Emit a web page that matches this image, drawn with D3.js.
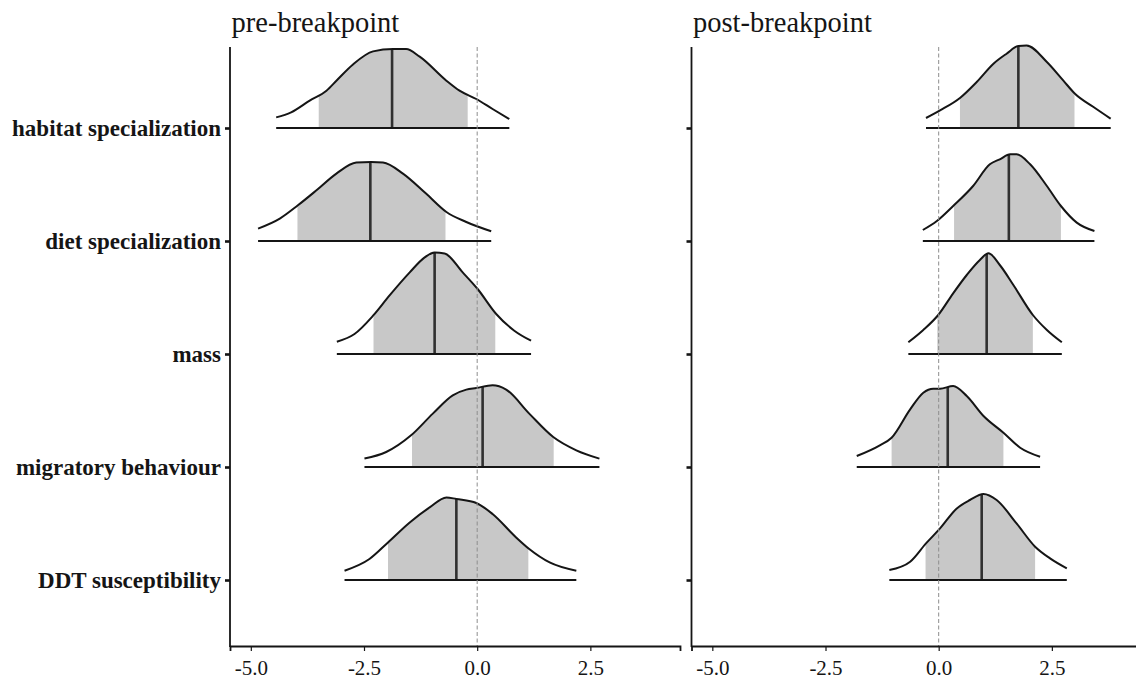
<!DOCTYPE html>
<html>
<head>
<meta charset="utf-8">
<script src="https://cdn.jsdelivr.net/npm/d3@7"></script>
<style>
  html, body { margin: 0; padding: 0; background: #fff; }
  svg { display: block; }
</style>
</head>
<body>
<script>
// ---------------- DATA ----------------
const categories = ["habitat specialization", "diet specialization", "mass", "migratory behaviour", "DDT susceptibility"];
const panelTitles = ["pre-breakpoint", "post-breakpoint"];
const xTicks = [-5.0, -2.5, 0.0, 2.5];

// density curves [value, density] per category
const preDensity = [
  [[-4.44,.106],[-4.11,.156],[-3.70,.273],[-3.33,.373],[-3.11,.473],[-2.75,.633],[-2.30,.766],[-1.86,.79],[-1.57,.79],[-1.27,.713],[-0.68,.473],[-0.39,.373],[-0.02,.29],[0.34,.19],[0.71,.09]],
  [[-4.84,.124],[-4.36,.224],[-3.96,.357],[-3.55,.507],[-3.11,.674],[-2.67,.784],[-2.34,.79],[-2.08,.784],[-1.64,.674],[-1.13,.474],[-0.68,.29],[-0.24,.19],[0.31,.097]],
  [[-3.10,.123],[-2.71,.20],[-2.30,.383],[-1.94,.583],[-1.49,.816],[-1.16,.966],[-0.94,1.016],[-0.72,1.006],[-0.32,.816],[0.01,.65],[0.42,.40],[0.82,.233],[1.19,.133]],
  [[-2.49,.084],[-2.01,.15],[-1.46,.317],[-0.98,.534],[-0.54,.717],[-0.24,.774],[-0.02,.79],[0.34,.817],[0.64,.774],[1.15,.534],[1.68,.30],[2.19,.167],[2.70,.084]],
  [[-2.93,.093],[-2.38,.21],[-1.97,.376],[-1.49,.576],[-1.05,.726],[-0.68,.826],[-0.46,.81],[-0.02,.77],[0.34,.66],[0.86,.426],[1.15,.31],[1.60,.176],[2.19,.093]]
];
const postDensity = [
  [[-0.28,.10],[0.03,.176],[0.47,.30],[0.84,.46],[1.21,.643],[1.50,.743],[1.76,.82],[1.94,.826],[2.39,.66],[2.75,.476],[3.01,.343],[3.42,.21],[3.80,.093]],
  [[-0.35,.11],[-0.04,.20],[0.32,.35],[0.76,.55],[1.13,.767],[1.35,.817],[1.58,.867],[1.72,.867],[2.02,.767],[2.39,.55],[2.70,.35],[3.05,.184],[3.44,.10]],
  [[-0.67,.117],[-0.34,.24],[-0.01,.39],[0.32,.607],[0.62,.79],[0.91,.94],[1.10,1.007],[1.35,.89],[1.65,.69],[2.08,.39],[2.39,.24],[2.72,.117]],
  [[-1.81,.11],[-1.30,.217],[-1.04,.293],[-0.63,.577],[-0.34,.743],[-0.12,.783],[0.03,.783],[0.32,.81],[0.62,.71],[0.99,.51],[1.43,.343],[1.80,.193],[2.24,.103]],
  [[-1.09,.10],[-0.63,.183],[-0.28,.366],[0.03,.516],[0.40,.716],[0.69,.80],[0.99,.86],[1.28,.80],[1.72,.566],[2.13,.333],[2.46,.216],[2.83,.116]]
];

// interval summaries per category
const preLower  = [-3.50, -3.97, -2.29, -1.44, -1.97];
const preMedian = [-1.88, -2.36, -0.94,  0.12, -0.46];
const preUpper  = [-0.21, -0.70,  0.40,  1.69,  1.13];
const postLower  = [0.47, 0.34, -0.03, -1.04, -0.29];
const postMedian = [1.76, 1.55,  1.06,  0.20,  0.95];
const postUpper  = [3.00, 2.70,  2.08,  1.43,  2.13];

// ---------------- DRAW ----------------
const W = 1136, H = 682;
const svg = d3.select("body").append("svg").attr("width", W).attr("height", H);
const defs = svg.append("defs");

const panelTop = 47, panelBottom = 646, panelW = 450;
const panels = [
  { title: panelTitles[0], left: 230,   dens: preDensity,  lo: preLower,  med: preMedian,  hi: preUpper,  labels: true },
  { title: panelTitles[1], left: 691.5, dens: postDensity, lo: postLower, med: postMedian, hi: postUpper, labels: false }
];

const y = d3.scalePoint().domain(categories).range([128, 580]);
const h = d3.scaleLinear().domain([0, 1]).range([0, 100]);
const serif = "'Liberation Serif', 'Times New Roman', Times, serif";
const ink = "#151515";

panels.forEach((p, pi) => {
  const x = d3.scaleLinear().domain([-5.46, 4.48]).range([p.left, p.left + panelW]);
  const g = svg.append("g");

  categories.forEach((cat, i) => {
    const base = y(cat);
    const pts = p.dens[i];
    const curve = d3.curveMonotoneX;
    const area = d3.area().x(d => x(d[0])).y0(base).y1(d => base - h(d[1])).curve(curve);
    const line = d3.line().x(d => x(d[0])).y(d => base - h(d[1])).curve(curve);
    const cid = `clip-${pi}-${i}`;
    defs.append("clipPath").attr("id", cid).append("path").attr("d", area(pts));

    const rg = g.append("g");
    rg.append("path").attr("d", area(pts)).attr("fill", "#ffffff");
    rg.append("rect")
      .attr("x", x(p.lo[i])).attr("width", x(p.hi[i]) - x(p.lo[i]))
      .attr("y", base - 160).attr("height", 160)
      .attr("fill", "#c8c8c8").attr("clip-path", `url(#${cid})`);
    rg.append("line")
      .attr("x1", x(p.med[i])).attr("x2", x(p.med[i]))
      .attr("y1", base).attr("y2", base - 160)
      .attr("stroke", "#303030").attr("stroke-width", 2.6)
      .attr("clip-path", `url(#${cid})`);
    rg.append("path").attr("d", line(pts)).attr("fill", "none")
      .attr("stroke", ink).attr("stroke-width", 2).attr("stroke-linejoin", "round");
    rg.append("line")
      .attr("x1", x(pts[0][0])).attr("x2", x(pts[pts.length - 1][0]))
      .attr("y1", base).attr("y2", base)
      .attr("stroke", ink).attr("stroke-width", 2);
  });

  // zero reference line
  g.append("line")
    .attr("x1", x(0)).attr("x2", x(0)).attr("y1", panelTop).attr("y2", panelBottom)
    .attr("stroke", "#8e8e8e").attr("stroke-width", 1).attr("stroke-dasharray", "4,2.5");

  // x axis
  const xa = svg.append("g").attr("transform", `translate(0,${panelBottom})`)
    .call(d3.axisBottom(x).tickValues(xTicks).tickFormat(d => d.toFixed(1)).tickSizeOuter(0).tickSize(5).tickPadding(9));
  xa.select(".domain").attr("stroke", ink).attr("stroke-width", 1.8);
  xa.selectAll(".tick line").attr("stroke", ink).attr("stroke-width", 1.2);
  xa.selectAll(".tick text").attr("fill", ink).style("font-family", serif).style("font-size", "21px");

  // y axis
  const ya = svg.append("g").attr("transform", `translate(${p.left},0)`)
    .call(d3.axisLeft(y).tickSize(5).tickPadding(4).tickFormat(p.labels ? (d => d) : (() => "")));
  ya.select(".domain").remove();
  ya.append("line").attr("x1", 0).attr("x2", 0).attr("y1", panelTop).attr("y2", panelBottom + 0.9)
    .attr("stroke", ink).attr("stroke-width", 1.8);
  ya.selectAll(".tick line").attr("stroke", ink).attr("stroke-width", 2.6);
  ya.selectAll(".tick text").attr("fill", ink).style("font-family", serif)
    .style("font-size", "23px").style("font-weight", "bold");

  // panel title
  svg.append("text").attr("x", p.left + 1.5).attr("y", 32)
    .attr("fill", ink).style("font-family", serif).style("font-size", "28.5px")
    .text(p.title);
});
</script>
</body>
</html>
